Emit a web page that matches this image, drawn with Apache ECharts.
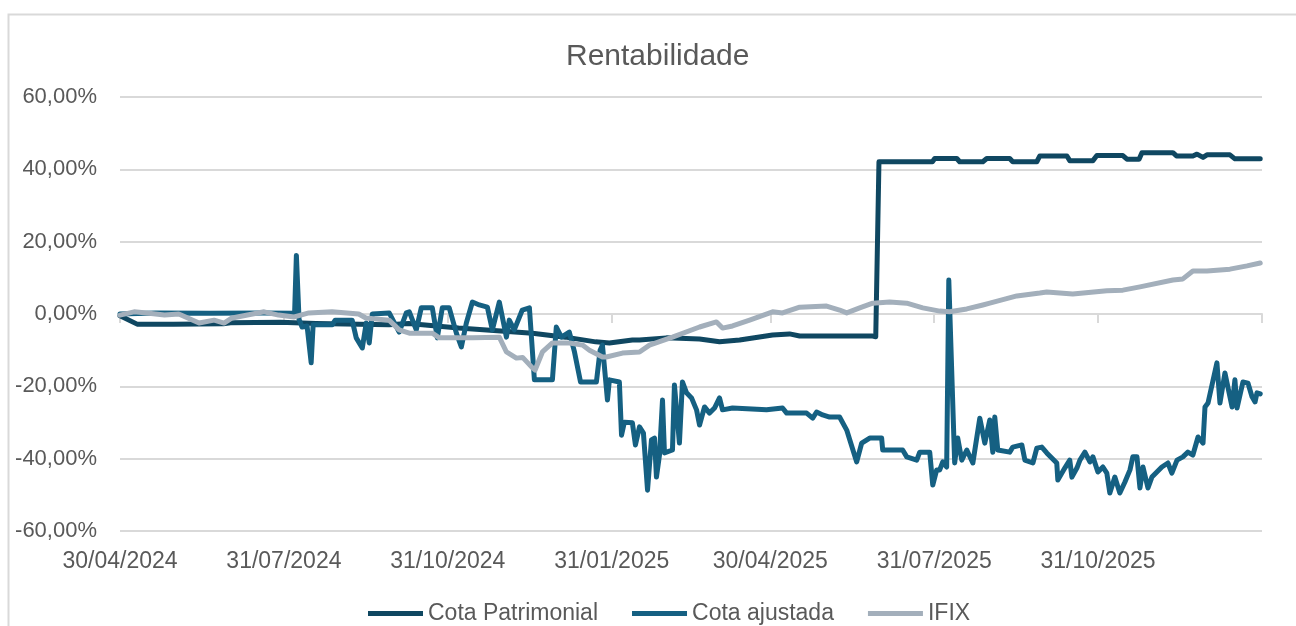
<!DOCTYPE html>
<html><head><meta charset="utf-8">
<script src="https://cdn.jsdelivr.net/npm/echarts@6/dist/echarts.min.js"></script>
<style>html,body{margin:0;padding:0;background:#fff}#c{width:1296px;height:626px}</style>
</head><body><div id="c"></div>
<script>
// ---- data ----
const startDate = [2024, 3, 30];           // 30/04/2024 (month 0-based)
const endDate = [2026, 0, 31];             // 31/01/2026
const tickDates = [[2024,3,30],[2024,6,31],[2024,9,31],[2025,0,31],[2025,3,30],[2025,6,31],[2025,9,31],[2026,0,31]];
const labelDates = tickDates.slice(0, 7);
const seriesNames = ['Cota Patrimonial', 'Cota ajustada', 'IFIX'];
const yMin = -60, yMax = 60, yStep = 20;

// [days since 30/04/2024, return %]
const cotaPatrimonial = [
[0,-0.5],[9.6,-2.8],[30,-2.8],[58,-2.7],[62,-2.4],[90,-2.3],[110,-2.6],[151,-3.0],[162,-2.6],[190,-3.9],
[231.5,-5.3],[250,-6.4],[267,-7.7],[274.7,-8.0],[287.6,-7.2],[291.6,-7.2],[306.7,-6.6],[325.3,-6.9],[336.5,-7.7],
[347.8,-7.2],[366.3,-5.8],[375.8,-5.5],[381.5,-6.1],[422.5,-6.1],[424.2,-6.3],
[426,42.1],[456,42.1],[457.3,43.0],[469.7,43.0],[471.3,42.1],[484.3,42.1],[486.5,43.0],[499.4,43.0],[501.1,42.1],
[514.6,42.1],[516.3,43.7],[531.5,43.7],[533.1,42.4],[546.1,42.4],[548.3,43.8],[562.9,43.8],[565.2,42.8],[572,42.8],
[573.6,44.6],[591,44.6],[593,43.7],[602.2,43.7],[604.5,44.2],[607.9,43.3],[610.1,44.0],[623,44.0],[625.8,42.9],[640,42.9]
];
const cotaAjustada = [
[0,0],[20,0.3],[50,0.2],[80,0.3],[98,0.2],[99,16.2],[100.5,-1.5],[102.2,-3.6],[105,-3.3],[107.3,-13.5],[108.4,-3.0],
[119.1,-3.0],[120.8,-1.7],[130.3,-1.7],[132.6,-6.6],[136,-9.4],[138.2,-2.5],[139.9,-8.0],[141.6,0],[151.1,0.3],
[156.7,-5.0],[160.7,0.3],[162.4,0.6],[166.3,-4.4],[169.1,1.7],[175.3,1.7],[178.1,-6.6],[180.9,1.7],[184.8,1.7],
[188.8,-5.3],[191.6,-9.1],[194.4,-2.5],[197.8,3.3],[201.7,2.5],[206.2,1.9],[209,-4.4],[212.9,3.3],[216.9,-6.4],
[218.5,-1.7],[221.3,-4.4],[225.8,1.1],[229.8,1.7],[232.6,-18.2],[242.7,-18.2],[244.9,-3.6],[247.8,-6.4],[252.2,-5.0],
[255.1,-10.5],[258.5,-18.8],[267.4,-18.8],[269.5,-10.0],[270.8,-8.6],[273.6,-23.8],[274.7,-18.2],[280.3,-18.8],
[281.5,-33.5],[283.1,-29.9],[287.6,-30.1],[289.3,-36.2],[291.6,-31.2],[293.8,-32.9],[296.1,-48.7],[298.3,-34.8],
[300,-34.3],[301.1,-45.1],[302.8,-39.0],[304.5,-23.8],[305.6,-38.4],[310.1,-37.6],[311.2,-19.6],[314,-35.7],
[315.7,-18.8],[318,-21.8],[320.8,-23.2],[323.6,-26.5],[325.3,-30.7],[328.1,-25.7],[330.9,-27.4],[333.7,-26.0],
[336.5,-23.2],[338.2,-26.5],[343.8,-26.0],[362.9,-26.5],[371.9,-26.0],[374.2,-27.4],[385.4,-27.4],[388.8,-28.8],
[391,-27.1],[394.4,-27.9],[398.3,-28.5],[403.9,-28.5],[407.9,-32.1],[413.5,-40.9],[416.3,-35.7],[420.8,-34.3],
[427.5,-34.3],[428.1,-37.6],[439.3,-37.6],[441.6,-39.5],[447.2,-40.4],[448.9,-38.2],[454.5,-38.2],[456.2,-47.3],
[458.4,-43.1],[460.1,-43.1],[461.8,-40.9],[464,-42.3],[465.2,9.4],[468.5,-41.2],[470.2,-34.3],[472.5,-40.4],
[475.3,-37.6],[478.7,-41.2],[482.6,-28.8],[485.4,-35.7],[488.2,-29.3],[489.9,-38.2],[491,-28.5],[492.7,-37.6],
[499.4,-38.2],[501.1,-36.8],[506.2,-36.2],[507.9,-40.4],[512.4,-41.2],[514.6,-37.1],[517.4,-36.8],[520.2,-38.4],
[525.8,-41.2],[526.4,-45.9],[530.3,-42.6],[533.1,-40.4],[534.3,-45.1],[537.1,-42.6],[538.8,-40.4],[541.6,-38.2],
[544.4,-40.9],[546.1,-39.5],[548.9,-43.7],[551.7,-42.3],[553.9,-44.0],[555.6,-49.5],[558.4,-45.1],[561.2,-49.5],
[564,-46.5],[566.9,-43.1],[568.5,-39.5],[570.8,-39.5],[572.5,-48.1],[574.2,-42.3],[577,-48.1],[579.2,-45.1],
[582,-43.7],[584.8,-42.3],[588.2,-41.2],[590.4,-44.0],[593.3,-40.4],[596.6,-39.5],[599.4,-38.2],[602.2,-39.0],
[605.1,-34.0],[607.9,-35.7],[609,-25.7],[610.7,-24.6],[615.7,-13.5],[617.4,-24.6],[620.2,-16.3],[624.2,-25.7],
[625.8,-18.2],[627,-26.0],[630.3,-18.8],[633.1,-19.1],[635.4,-22.9],[637.1,-24.3],[638.2,-21.8],[640,-22.1]
];
const ifix = [
[0,-0.3],[7.9,0.6],[15,0.3],[25,-0.3],[33,0.0],[44.4,-2.5],[52.8,-1.7],[58.4,-2.5],[62.9,-1.1],[80.9,0.6],
[89,-0.3],[97.8,-0.8],[106,0.3],[119,0.6],[134,0.0],[138,-1.1],[151,-1.7],[156.7,-4.4],[162.4,-5.3],[175.3,-5.3],
[179.2,-6.6],[197.8,-6.6],[212.9,-6.4],[216.9,-10.5],[222.5,-12.2],[226,-12.0],[231.5,-14.9],[233,-15.5],
[237.1,-10.5],[242.7,-8.0],[252.2,-8.0],[259.6,-8.6],[263.5,-10.0],[270.8,-11.9],[273,-11.9],[282,-10.8],
[291.6,-10.5],[297.2,-8.6],[310.1,-6.4],[325.3,-3.6],[334.8,-2.2],[338.2,-3.9],[343.8,-3.3],[353.4,-1.7],
[366.3,0.6],[371.9,0.3],[381.5,1.9],[396.6,2.2],[403.9,1.1],[407.9,0.3],[415.2,1.7],[422.5,3.0],[432,3.3],
[441.6,3.0],[450.6,1.7],[460.1,0.8],[465.7,0.6],[475.3,1.4],[484.3,2.5],[488.2,3.0],[503.4,5.0],[516.3,5.8],
[520.2,6.1],[534.8,5.5],[553.9,6.4],[562.9,6.6],[572.5,7.5],[591,9.4],[596.6,9.7],[602.2,11.9],[610.1,11.9],
[623,12.4],[632.6,13.3],[640,14.1]
];

// ---- build ----
const DAY = 86400000;
const ts = a => Date.UTC(a[0], a[1], a[2]);
const base = ts(startDate);
const dayOf = a => Math.round((ts(a) - base) / DAY);
const pad = n => (n < 10 ? '0' : '') + n;
const fmtDay = v => { const d = new Date(base + Math.round(v) * DAY); return pad(d.getUTCDate()) + '/' + pad(d.getUTCMonth() + 1) + '/' + d.getUTCFullYear(); };
const fmtPct = v => v.toFixed(2).replace('.', ',') + '%';

const FONT = '"Liberation Sans", Arial, sans-serif';
const GREY = '#D9D9D9';
const TXT = '#595959';
const colors = ['#0F4761', '#156082', '#A3AFBB'];

const chart = echarts.init(document.getElementById('c'), null, { renderer: 'canvas' });
const xCommon = { type: 'value', min: 0, max: dayOf(endDate), gridIndex: 0 };
chart.setOption({
  animation: false,
  color: colors,
  textStyle: { fontFamily: FONT },
  graphic: [{ type: 'rect', shape: { x: 8.5, y: 14.5, width: 1300, height: 700 }, style: { fill: 'none', stroke: GREY, lineWidth: 2 }, silent: true }],
  title: { text: 'Rentabilidade', left: 561, top: 37, textStyle: { fontFamily: FONT, fontSize: 30, fontWeight: 'normal', color: TXT } },
  legend: {
    data: seriesNames, left: 363, top: 597, icon: 'rect', itemWidth: 55, itemHeight: 5, itemGap: 34,
    textStyle: { fontFamily: FONT, fontSize: 23, color: TXT }
  },
  grid: { left: 120, right: 34, top: 97, bottom: 95, containLabel: false },
  xAxis: [
    Object.assign({}, xCommon, {
      position: 'bottom',
      axisLine: { show: false, onZero: false },
      axisTick: { show: false },
      splitLine: { show: false },
      axisLabel: { show: true, customValues: labelDates.map(dayOf), formatter: fmtDay, margin: 19, fontSize: 23, color: TXT, fontFamily: FONT, hideOverlap: false }
    }),
    Object.assign({}, xCommon, {
      position: 'bottom',
      axisLine: { show: true, onZero: true, lineStyle: { color: GREY, width: 2 } },
      axisTick: { show: true, customValues: tickDates.map(dayOf), length: 9, lineStyle: { color: GREY, width: 2 } },
      axisLabel: { show: false },
      splitLine: { show: false }
    })
  ],
  yAxis: {
    type: 'value', min: yMin, max: yMax, interval: yStep,
    axisLine: { show: false }, axisTick: { show: false },
    splitLine: { show: true, lineStyle: { color: GREY, width: 2 } },
    axisLabel: { formatter: fmtPct, fontSize: 22, color: TXT, fontFamily: FONT, margin: 23 }
  },
  series: [cotaPatrimonial, cotaAjustada, ifix].map((arr, i) => ({
    name: seriesNames[i], type: 'line', xAxisIndex: 0, showSymbol: false, symbol: 'none',
    data: arr.map(p => [p[0], p[1]]),
    lineStyle: { width: 5, color: colors[i], cap: 'round', join: 'round' },
    itemStyle: { color: colors[i] }, z: 2 + i
  }))
});
</script>
</body></html>
